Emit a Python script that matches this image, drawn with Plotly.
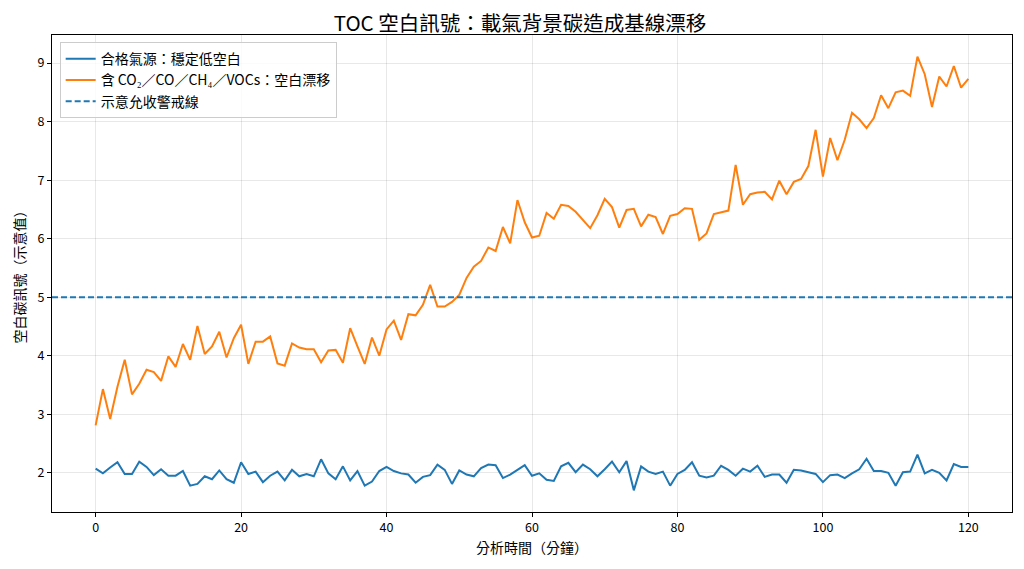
import plotly.graph_objects as go

# 分析時間（分鐘）
minutes = list(range(121))

# 合格氣源：穩定低空白
clean_gas = [
    2.07, 1.99, 2.09, 2.18, 1.98, 1.98, 2.19, 2.10, 1.96, 2.06,
    1.95, 1.95, 2.03, 1.78, 1.81, 1.94, 1.89, 2.04, 1.89, 1.83,
    2.18, 1.98, 2.02, 1.84, 1.95, 2.02, 1.87, 2.05, 1.94, 1.98,
    1.94, 2.23, 1.99, 1.89, 2.11, 1.87, 2.03, 1.78, 1.85, 2.03,
    2.10, 2.03, 1.99, 1.97, 1.83, 1.93, 1.96, 2.14, 2.05, 1.81,
    2.04, 1.97, 1.94, 2.08, 2.14, 2.13, 1.91, 1.97, 2.05, 2.13,
    1.95, 1.99, 1.88, 1.86, 2.11, 2.17, 2.01, 2.14, 2.06, 1.94,
    2.06, 2.19, 2.01, 2.20, 1.70, 2.11, 2.02, 1.98, 2.02, 1.78,
    1.98, 2.05, 2.18, 1.95, 1.92, 1.95, 2.12, 2.05, 1.95, 2.07,
    2.02, 2.12, 1.93, 1.97, 1.97, 1.83, 2.05, 2.04, 2.01, 1.98,
    1.84, 1.96, 1.97, 1.91, 1.99, 2.06, 2.24, 2.03, 2.03, 2.00,
    1.78, 2.01, 2.02, 2.31, 1.99, 2.05, 2.00, 1.87, 2.15, 2.10,
    2.10,
]

# 含 CO₂／CO／CH₄／VOCs：空白漂移
dirty_gas = [
    2.81, 3.43, 2.92, 3.47, 3.93, 3.34, 3.52, 3.76, 3.72, 3.57,
    3.99, 3.81, 4.20, 3.93, 4.51, 4.03, 4.16, 4.41, 3.97, 4.30,
    4.53, 3.86, 4.24, 4.24, 4.33, 3.87, 3.83, 4.21, 4.14, 4.11,
    4.11, 3.89, 4.09, 4.10, 3.88, 4.47, 4.16, 3.86, 4.31, 4.00,
    4.45, 4.60, 4.27, 4.71, 4.69, 4.87, 5.21, 4.84, 4.84, 4.92,
    5.04, 5.33, 5.52, 5.62, 5.85, 5.79, 6.20, 5.92, 6.66, 6.28,
    6.02, 6.05, 6.44, 6.34, 6.58, 6.56, 6.46, 6.32, 6.18, 6.40,
    6.68, 6.54, 6.19, 6.49, 6.51, 6.21, 6.41, 6.37, 6.08, 6.39,
    6.42, 6.52, 6.51, 5.98, 6.09, 6.42, 6.45, 6.48, 7.26, 6.58,
    6.76, 6.79, 6.80, 6.67, 6.99, 6.76, 6.97, 7.02, 7.24, 7.86,
    7.06, 7.72, 7.34, 7.69, 8.15, 8.04, 7.89, 8.06, 8.45, 8.23,
    8.50, 8.53, 8.44, 9.11, 8.81, 8.25, 8.77, 8.60, 8.95, 8.58,
    8.73,
]

threshold = 5.0

x_ticks = [0, 20, 40, 60, 80, 100, 120]
y_ticks = [2, 3, 4, 5, 6, 7, 8, 9]

BLUE = "#1f77b4"
ORANGE = "#ff7f0e"
FONT = "Noto Sans CJK TC"

fig = go.Figure()

fig.add_trace(go.Scatter(
    x=minutes, y=clean_gas, mode="lines",
    name="合格氣源：穩定低空白",
    line=dict(color=BLUE, width=2),
    legendrank=1, legendgroup="a",
))
fig.add_trace(go.Scatter(
    x=minutes, y=dirty_gas, mode="lines",
    name="含 CO₂／CO／CH₄／VOCs：空白漂移",
    line=dict(color=ORANGE, width=2),
    legendrank=2, legendgroup="b",
))

# 示意允收警戒線（橫跨整個圖框）
fig.add_hline(
    y=threshold,
    line=dict(color=BLUE, width=2, dash="6px,3px"),
    showlegend=True,
    name="示意允收警戒線",
    legendrank=3, legendgroup="c",
)

axis_common = dict(
    showline=True, linecolor="black", linewidth=1, mirror=True,
    ticks="outside", ticklen=4, tickcolor="black",
    showgrid=True, gridcolor="rgba(0,0,0,0.09)", gridwidth=1,
    zeroline=False,
    tickfont=dict(size=12.5, color="black"),
)

fig.update_xaxes(
    range=[-6, 126], tickvals=x_ticks,
    title=dict(text="分析時間（分鐘）", font=dict(size=14, color="black"), standoff=8),
    **axis_common,
)
fig.update_yaxes(
    range=[1.33, 9.48], tickvals=y_ticks,
    title=dict(text="空白碳訊號（示意值）", font=dict(size=14, color="black"), standoff=8),
    **axis_common,
)

# 頁面 body 有 8px 邊距，邊界往左上補償
fig.update_layout(
    width=1024, height=569,
    margin=dict(l=40, r=20, t=27, b=65),
    paper_bgcolor="white", plot_bgcolor="white",
    font=dict(family=FONT, color="black"),
    title=dict(
        text="TOC 空白訊號：載氣背景碳造成基線漂移",
        x=0.5, xanchor="center", y=0.972, yanchor="middle",
        font=dict(size=20.5, color="black"),
    ),
    legend=dict(
        x=0.008, y=0.985, xanchor="left", yanchor="top",
        bgcolor="rgba(255,255,255,0.8)", bordercolor="#cccccc", borderwidth=1,
        font=dict(size=14), traceorder="grouped", tracegroupgap=0,
    ),
    showlegend=True,
)

fig.write_html("out.html")
